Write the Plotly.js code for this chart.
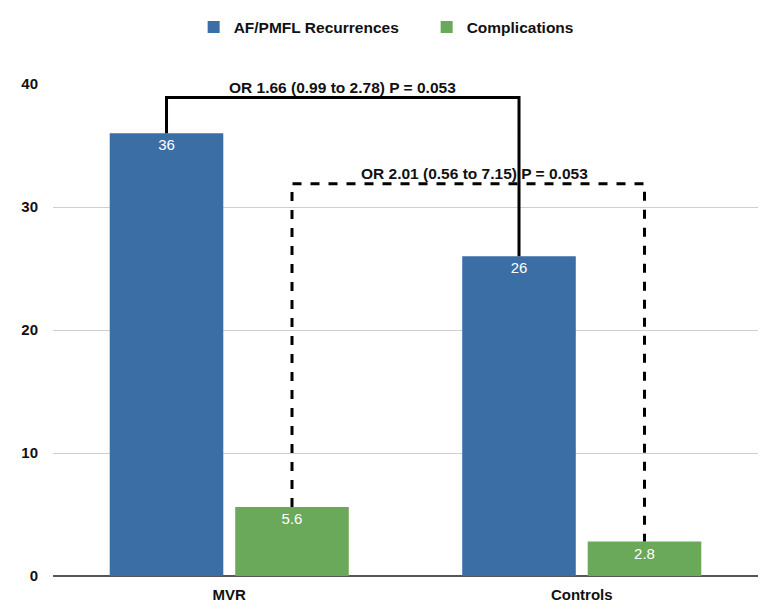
<!DOCTYPE html>
<html>
<head>
<meta charset="utf-8">
<script src="https://cdn.plot.ly/plotly-3.0.1.min.js"></script>
<style>html,body{margin:0;padding:0;background:#fff;}#chart{width:772px;height:609px;}</style>
</head>
<body>
<div id="chart"></div>
<script>
const categories = ['MVR', 'Controls'];
const seriesNames = ['AF/PMFL Recurrences', 'Complications'];
const recurrences = [36, 26];
const complications = [5.6, 2.8];
const recurrenceLabels = ['36', '26'];
const complicationLabels = ['5.6', '2.8'];
const yTicks = [0, 10, 20, 30, 40];
const orRecurrences = 'OR 1.66 (0.99 to 2.78) P = 0.053';
const orComplications = 'OR 2.01 (0.56 to 7.15) P = 0.053';

const FONT = 'Liberation Sans, Arial, Helvetica, sans-serif';
const bargap = 0.288, bargroupgap = 0.095;
const slot = (1 - bargap) / 2;
const off0 = -slot / 2, off1 = slot / 2;

const traces = [
  {type: 'bar', name: seriesNames[0], x: categories, y: recurrences, text: recurrenceLabels,
   marker: {color: '#3b6ea4'}, textposition: 'inside', insidetextanchor: 'end', textangle: 0,
   textfont: {color: '#ffffff', size: 15, family: FONT}, hoverinfo: 'none'},
  {type: 'bar', name: seriesNames[1], x: categories, y: complications, text: complicationLabels,
   marker: {color: '#6aa95a'}, textposition: 'inside', insidetextanchor: 'end', textangle: 0,
   textfont: {color: '#ffffff', size: 15, family: FONT}, hoverinfo: 'none'}
];

const top1 = 38.9, top2 = 31.9;
const shapes = [
  {type: 'path', xref: 'x', yref: 'y',
   path: `M ${0 + off0},${recurrences[0]} L ${0 + off0},${top1} L ${1 + off0},${top1} L ${1 + off0},${recurrences[1]}`,
   line: {color: '#000', width: 3}},
  {type: 'path', xref: 'x', yref: 'y',
   path: `M ${0 + off1},${complications[0]} L ${0 + off1},${top2} L ${1 + off1},${top2} L ${1 + off1},${complications[1]}`,
   line: {color: '#000', width: 3, dash: 'dash'}}
];

const annotations = [
  {xref: 'x', yref: 'y', x: 0.5 + off0, y: top1, yanchor: 'bottom', yshift: 0, showarrow: false,
   text: orRecurrences, font: {family: FONT, size: 15.5, color: '#111', weight: 'bold'}},
  {xref: 'x', yref: 'y', x: 0.5 + off1 + 0.017, y: top2, yanchor: 'bottom', yshift: 0, showarrow: false,
   text: orComplications, font: {family: FONT, size: 15.5, color: '#111', weight: 'bold'}}
];

const layout = {
  width: 772, height: 609,
  margin: {l: 53, r: 14, t: 84, b: 33, pad: 0, autoexpand: false},
  paper_bgcolor: '#ffffff', plot_bgcolor: '#ffffff',
  barmode: 'group', bargap: bargap, bargroupgap: bargroupgap,
  showlegend: true,
  legend: {orientation: 'h', x: 0.53, xanchor: 'center', y: 1.115, yanchor: 'middle', entrywidth: 188,
    font: {family: FONT, size: 15.5, color: '#111', weight: 'bold'}, itemclick: false, traceorder: 'normal'},
  xaxis: {type: 'category', range: [-0.5, 1.5], showgrid: false, zeroline: false,
    showline: false, ticks: '', ticklabelstandoff: 8,
    tickfont: {family: FONT, size: 15, color: '#111', weight: 'bold'}},
  yaxis: {range: [0, 40], tickvals: yTicks, ticktext: yTicks.map(String), showgrid: true,
    gridcolor: '#cfcfcf', gridwidth: 1, zeroline: true, zerolinecolor: '#555', zerolinewidth: 1.5,
    showline: false, ticks: '', ticklabelstandoff: 14,
    tickfont: {family: FONT, size: 15, color: '#111', weight: 'bold'}},
  shapes: shapes,
  annotations: annotations
};

Plotly.newPlot('chart', traces, layout, {displayModeBar: false, staticPlot: true});
</script>
</body>
</html>
